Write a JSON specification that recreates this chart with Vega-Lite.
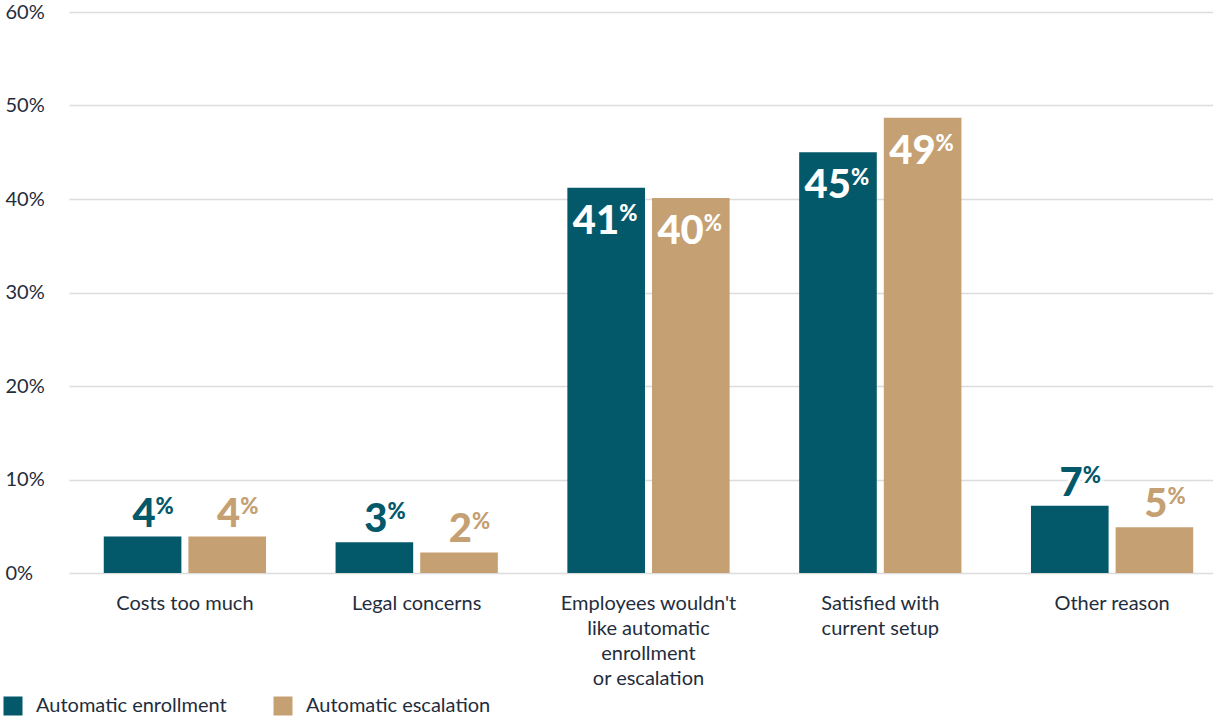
{
  "$schema": "https://vega.github.io/schema/vega-lite/v6.json",
  "width": 1143,
  "height": 561,
  "autosize": {"type": "none"},
  "padding": {"left": 60, "top": 12, "right": 10, "bottom": 146},
  "background": "white",
  "config": {"view": {"stroke": null}, "font": "Lato"},
  "data": {
    "values": [
      {"category": "Costs too much", "series": "Automatic enrollment", "value": 3.9},
      {"category": "Costs too much", "series": "Automatic escalation", "value": 3.9},
      {"category": "Legal concerns", "series": "Automatic enrollment", "value": 3.3},
      {"category": "Legal concerns", "series": "Automatic escalation", "value": 2.2},
      {"category": "Employees wouldn't|like automatic|enrollment|or escalation", "series": "Automatic enrollment", "value": 41.2},
      {"category": "Employees wouldn't|like automatic|enrollment|or escalation", "series": "Automatic escalation", "value": 40.1},
      {"category": "Satisfied with|current setup", "series": "Automatic enrollment", "value": 45.0},
      {"category": "Satisfied with|current setup", "series": "Automatic escalation", "value": 48.7},
      {"category": "Other reason", "series": "Automatic enrollment", "value": 7.2},
      {"category": "Other reason", "series": "Automatic escalation", "value": 4.9}
    ]
  },
  "encoding": {
    "x": {
      "field": "category",
      "type": "nominal",
      "sort": null,
      "scale": {"range": [9, 1168], "paddingInner": 0.3, "paddingOuter": 0.15},
      "axis": {
        "title": null,
        "domain": false,
        "ticks": false,
        "tickSize": 0,
        "labelAngle": 0,
        "labelExpr": "split(datum.value, '|')",
        "labelFont": "Lato",
        "labelFontSize": 20,
        "labelLineHeight": 25,
        "labelPadding": 20,
        "labelColor": "#1f2d3d",
        "labelBaseline": "top",
        "labelLimit": 0
      }
    },
    "xOffset": {
      "field": "series",
      "type": "nominal",
      "sort": ["Automatic enrollment", "Automatic escalation"],
      "scale": {"paddingInner": 0.083, "paddingOuter": 0}
    },
    "y": {
      "field": "value",
      "type": "quantitative",
      "scale": {"domain": [0, 60]},
      "axis": {
        "title": null,
        "values": [0, 10, 20, 30, 40, 50, 60],
        "labelExpr": "datum.value + '%'",
        "domain": false,
        "ticks": false,
        "tickSize": 0,
        "labelAlign": "left",
        "labelBaseline": "middle",
        "labelPadding": 55,
        "labelFont": "Lato",
        "labelFontSize": 20,
        "labelColor": "#1f2d3d",
        "grid": true,
        "gridColor": "#dcdcdc",
        "gridWidth": 1.5
      }
    }
  },
  "layer": [
    {
      "mark": {"type": "bar"},
      "encoding": {
        "color": {
          "field": "series",
          "type": "nominal",
          "scale": {"domain": ["Automatic enrollment", "Automatic escalation"], "range": ["#03586A", "#C4A073"]},
          "legend": {
            "title": null,
            "orient": "none",
            "legendX": -57,
            "legendY": 684,
            "direction": "horizontal",
            "symbolType": "square",
            "symbolSize": 361,
            "symbolStrokeWidth": 0,
            "symbolOpacity": 1,
            "labelFont": "Lato",
            "labelFontSize": 20,
            "labelLimit": 0,
            "labelColor": "#1f2d3d",
            "labelOffset": 13,
            "columnPadding": 46,
            "padding": 0
          }
        }
      }
    },
    {
      "transform": [{"filter": "datum.value < 20"}],
      "mark": {"type": "text", "align": "right", "baseline": "alphabetic", "dx": 13, "dy": -10, "fontSize": 40, "fontWeight": 900, "font": "Lato", "stroke": "white", "strokeWidth": 6, "strokeJoin": "round", "fill": "white"},
      "encoding": {"text": {"field": "value", "type": "quantitative", "format": ".0f"}}
    },
    {
      "transform": [{"filter": "datum.value < 20"}],
      "mark": {"type": "text", "align": "left", "baseline": "alphabetic", "dx": 13, "dy": -23, "fontSize": 22, "fontWeight": 900, "font": "Lato", "stroke": "white", "strokeWidth": 6, "strokeJoin": "round", "fill": "white"},
      "encoding": {"text": {"value": "%"}}
    },
    {
      "transform": [{"filter": "datum.value < 20"}],
      "mark": {"type": "text", "align": "right", "baseline": "alphabetic", "dx": 13, "dy": -10, "fontSize": 40, "fontWeight": 900, "font": "Lato"},
      "encoding": {
        "text": {"field": "value", "type": "quantitative", "format": ".0f"},
        "color": {"field": "series", "type": "nominal", "legend": null}
      }
    },
    {
      "transform": [{"filter": "datum.value < 20"}],
      "mark": {"type": "text", "align": "left", "baseline": "alphabetic", "dx": 13, "dy": -23, "fontSize": 22, "fontWeight": 900, "font": "Lato"},
      "encoding": {
        "text": {"value": "%"},
        "color": {"field": "series", "type": "nominal", "legend": null}
      }
    },
    {
      "transform": [{"filter": "datum.value >= 20"}],
      "mark": {"type": "text", "align": "right", "baseline": "alphabetic", "dx": 13, "dy": 46, "fontSize": 40, "fontWeight": 900, "font": "Lato", "fill": "white"},
      "encoding": {"text": {"field": "value", "type": "quantitative", "format": ".0f"}}
    },
    {
      "transform": [{"filter": "datum.value >= 20"}],
      "mark": {"type": "text", "align": "left", "baseline": "alphabetic", "dx": 13, "dy": 33, "fontSize": 22, "fontWeight": 900, "font": "Lato", "fill": "white"},
      "encoding": {"text": {"value": "%"}}
    }
  ]
}
